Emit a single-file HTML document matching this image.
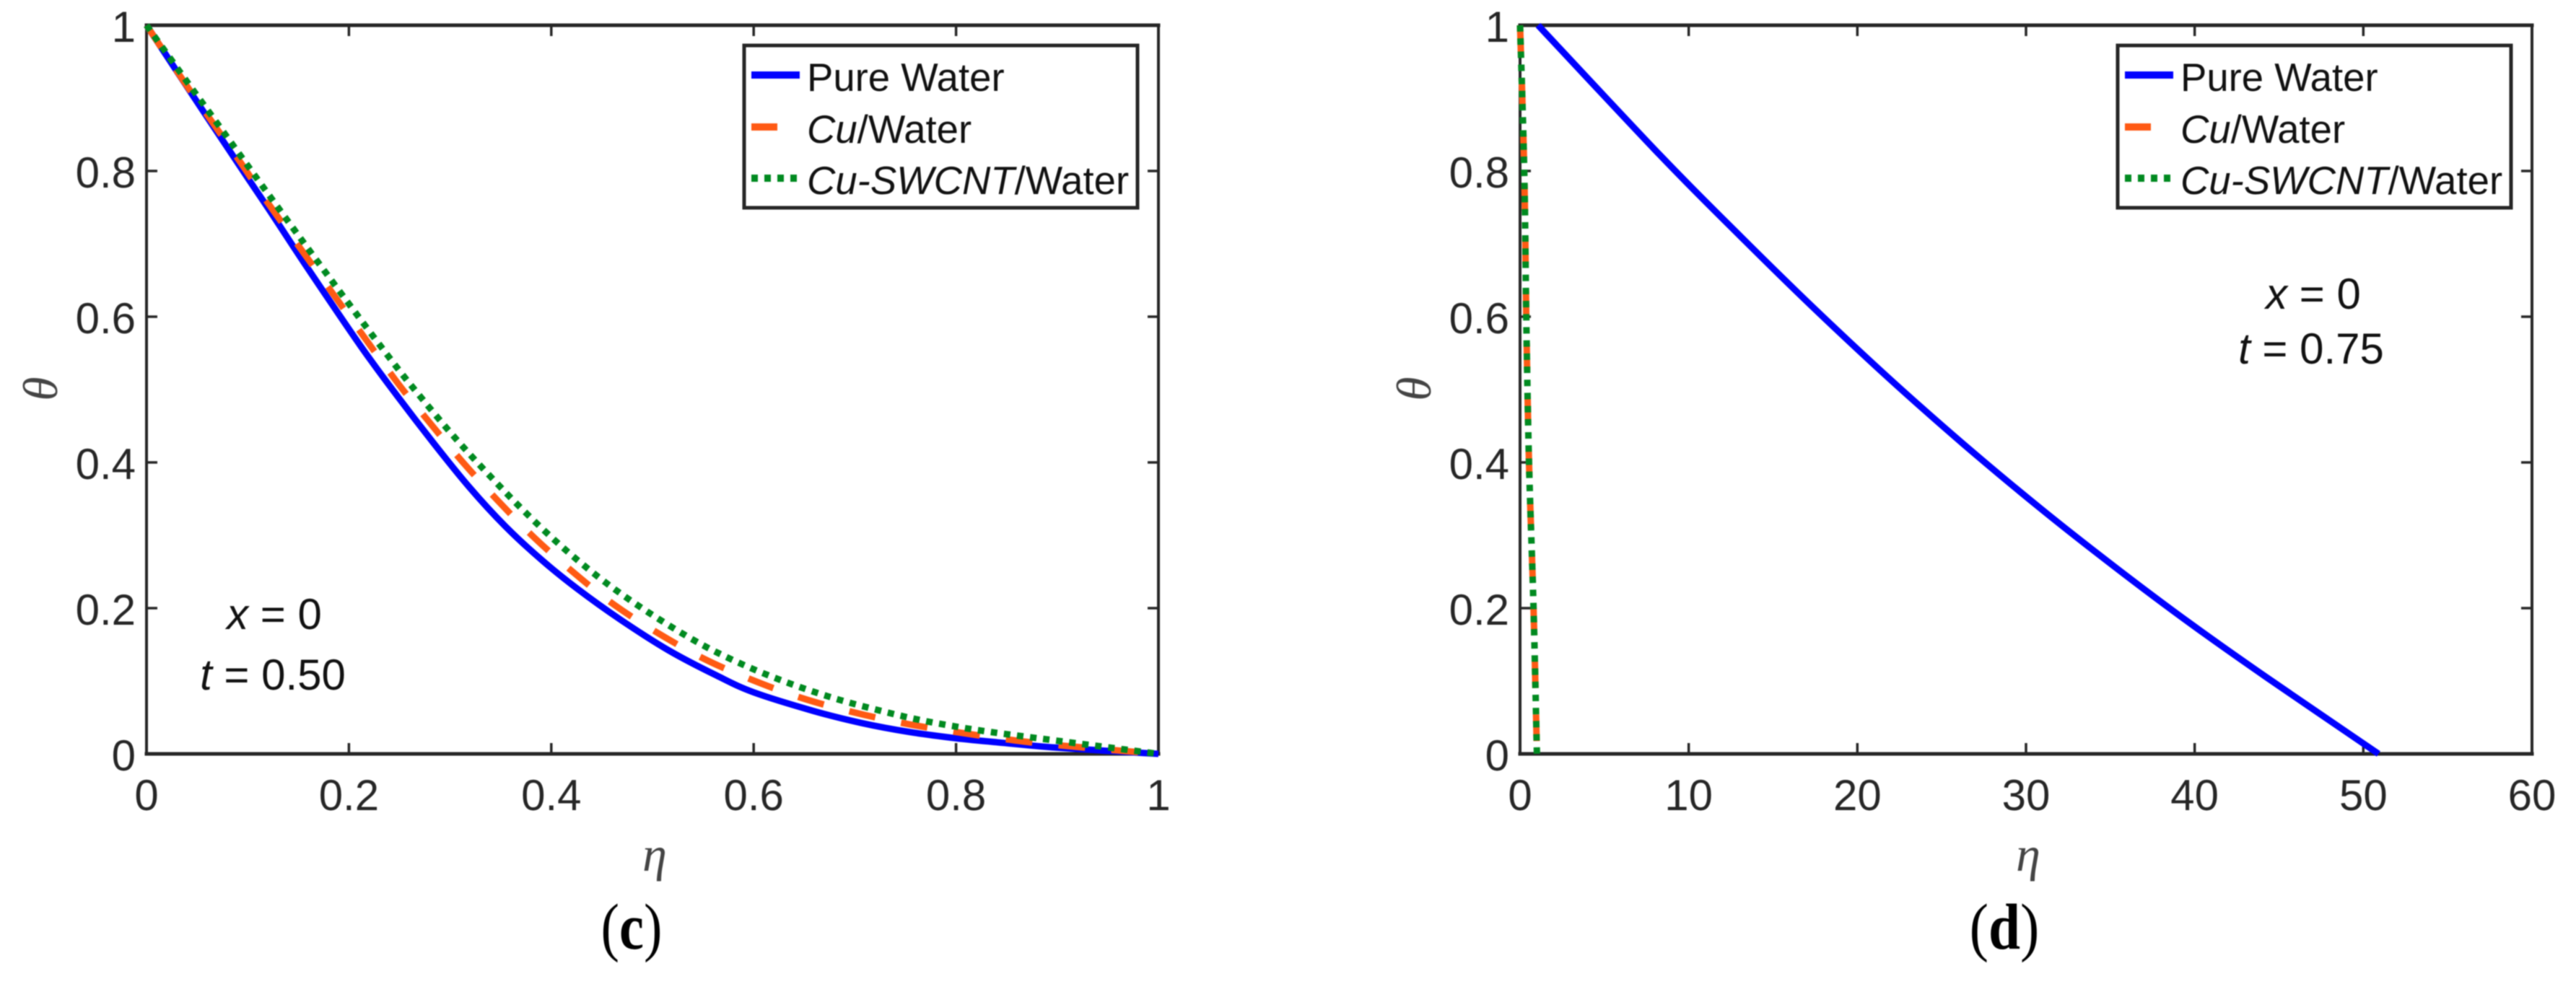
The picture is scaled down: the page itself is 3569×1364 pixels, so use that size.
<!DOCTYPE html>
<html lang="en">
<head>
<meta charset="utf-8">
<title>Temperature profiles (c) and (d)</title>
<style>
html,body{margin:0;padding:0;background:#fff;}
body{width:3569px;height:1364px;overflow:hidden;}
svg{display:block;filter:blur(0.7px);}
text{font-family:"Liberation Sans",Arial,sans-serif;}
.tick{font-size:60px;fill:#262626;}
.leg{font-size:54.5px;fill:#111;}
.note{font-size:60px;fill:#111;}
.sym{font-family:"Liberation Serif","DejaVu Serif",serif;font-style:italic;font-size:68px;fill:#444;}
.cap{font-family:"Liberation Serif","DejaVu Serif",serif;font-size:90px;fill:#000;}
</style>
</head>
<body>
<svg id="figure" xmlns="http://www.w3.org/2000/svg" width="3569" height="1364" viewBox="0 0 3569 1364">
  <rect x="0" y="0" width="3569" height="1364" fill="#fff"/>
  <g id="panel-c"></g>
  <g id="panel-d"></g>

  <text class="cap" text-anchor="middle" transform="translate(875 1315) scale(0.85 1)">(<tspan font-weight="bold">c</tspan>)</text>
  <text class="cap" text-anchor="middle" transform="translate(2777 1315) scale(0.88 1)">(<tspan font-weight="bold">d</tspan>)</text>

  <text class="note" x="380" y="872" text-anchor="middle"><tspan font-style="italic">x</tspan> = 0</text>
  <text class="note" x="378" y="956" text-anchor="middle"><tspan font-style="italic">t</tspan> = 0.50</text>
  <text class="note" x="3205" y="428" text-anchor="middle"><tspan font-style="italic">x</tspan> = 0</text>
  <text class="note" x="3202" y="504" text-anchor="middle"><tspan font-style="italic">t</tspan> = 0.75</text>
</svg>
<script>
// ---- Panel (c) data ----
const cXTickLabels = ['0', '0.2', '0.4', '0.6', '0.8', '1'];
const cXTicks = [0, 0.2, 0.4, 0.6, 0.8, 1];
const cEtaPure = [0, 0.0525, 0.1001, 0.1213, 0.16, 0.2118, 0.2475, 0.2832, 0.3188, 0.3545, 0.3902, 0.4258, 0.4686, 0.5162, 0.5637, 0.6, 0.6588, 0.7062, 0.754, 0.7996, 0.8395, 0.9, 1];
const cThetaPure = [1, 0.8894, 0.7904, 0.7465, 0.665, 0.5594, 0.4918, 0.4274, 0.3663, 0.3125, 0.2665, 0.2265, 0.184, 0.1419, 0.1073, 0.0845, 0.059, 0.0425, 0.03, 0.0215, 0.016, 0.0085, 0];
const cEtaCu = [0, 0.0371, 0.0661, 0.0953, 0.1227, 0.184, 0.2456, 0.2784, 0.3117, 0.3467, 0.3828, 0.4218, 0.4622, 0.5055, 0.5511, 0.5982, 0.6469, 0.6969, 0.7473, 0.7979, 0.85, 0.9, 1];
const cThetaCu = [1, 0.9224, 0.8647, 0.8069, 0.7508, 0.632, 0.5139, 0.4571, 0.4017, 0.3482, 0.2973, 0.2492, 0.2046, 0.1657, 0.1304, 0.1017, 0.0769, 0.0577, 0.0423, 0.0304, 0.02, 0.012, 0];
const cEtaHybrid = [0, 0.0323, 0.0625, 0.093, 0.1234, 0.18, 0.2392, 0.2713, 0.3048, 0.3397, 0.3759, 0.4139, 0.4538, 0.4964, 0.5407, 0.5754, 0.6108, 0.6474, 0.6845, 0.7218, 0.7598, 0.7979, 0.8359, 0.9, 0.95, 1];
const cThetaHybrid = [1, 0.9373, 0.8795, 0.8208, 0.7624, 0.655, 0.5452, 0.4891, 0.434, 0.3809, 0.3294, 0.2802, 0.235, 0.1938, 0.1561, 0.1314, 0.1099, 0.0908, 0.0743, 0.0604, 0.0478, 0.0379, 0.0297, 0.018, 0.009, 0];

// ---- Panel (d) data ----
const dXTickLabels = ['0', '10', '20', '30', '40', '50', '60'];
const dXTicks = [0, 10, 20, 30, 40, 50, 60];
const dEtaPure = [1.07, 8.29, 12.8, 17.3, 21.8, 26.3, 30.8, 35.3, 39.8, 44.3, 50.9];
const dThetaPure = [1, 0.822, 0.7165, 0.6145, 0.517, 0.425, 0.338, 0.256, 0.178, 0.1045, 0];
const dEtaCu = [0, 0.25, 0.37, 0.53, 0.8, 1];
const dThetaCu = [1, 0.8, 0.6, 0.4, 0.2, 0];
const dEtaHybrid = [0, 0.25, 0.37, 0.53, 0.8, 1];
const dThetaHybrid = [1, 0.8, 0.6, 0.4, 0.2, 0];

// ---- Shared y axis data ----
const yTicks = [0, 0.2, 0.4, 0.6, 0.8, 1];
const yTickLabels = ['0', '0.2', '0.4', '0.6', '0.8', '1'];

const SVGNS = 'http://www.w3.org/2000/svg';
const BLUE = '#0000ff', ORANGE = '#ff5a14', GREEN = '#008a20', INK = '#262626';

function make(tag, props, parent) {
  const node = document.createElementNS(SVGNS, tag);
  for (const key in props) node.setAttribute(key, props[key]);
  parent.appendChild(node);
  return node;
}

// Smooth path through the scaled points (Catmull-Rom to Bezier)
function smoothPath(pts) {
  let d = 'M' + pts[0][0].toFixed(1) + ' ' + pts[0][1].toFixed(1);
  for (let i = 0; i < pts.length - 1; i++) {
    const p0 = pts[Math.max(i - 1, 0)], p1 = pts[i], p2 = pts[i + 1], p3 = pts[Math.min(i + 2, pts.length - 1)];
    const c1x = p1[0] + (p2[0] - p0[0]) / 6, c1y = p1[1] + (p2[1] - p0[1]) / 6;
    const c2x = p2[0] - (p3[0] - p1[0]) / 6, c2y = p2[1] - (p3[1] - p1[1]) / 6;
    d += ' C' + c1x.toFixed(1) + ' ' + c1y.toFixed(1) + ' ' + c2x.toFixed(1) + ' ' + c2y.toFixed(1) + ' ' + p2[0].toFixed(1) + ' ' + p2[1].toFixed(1);
  }
  return d;
}

function drawPanel(cfg) {
  const g = document.getElementById(cfg.id);
  const L = cfg.left, T = 35, W = 1402, H = 1010;
  const R = L + W, B = T + H;
  const xScale = v => L + (v - cfg.xMin) / (cfg.xMax - cfg.xMin) * W;
  const yScale = v => B - v * H;

  // series
  function series(xs, ys, color, dash, name) {
    const pts = xs.map((v, i) => [xScale(v), yScale(ys[i])]);
    const path = make('path', {d: smoothPath(pts), fill: 'none', stroke: color, 'stroke-width': 9, 'stroke-dasharray': dash, 'stroke-linejoin': 'round'}, g);
    
    
  }

  // axes box
  const box = [[L, T, R, T, 5, 'axis-top'], [L, B, R, B, 5, 'axis-bottom'], [L, T, L, B, 4, 'axis-left'], [R, T, R, B, 4, 'axis-right']];
  box.forEach(function (b) {
    const line = make('line', {x1: b[0], y1: b[1], x2: b[2], y2: b[3], stroke: INK, 'stroke-width': b[4], 'stroke-linecap': 'square'}, g);
    
    
  });

  // x ticks and labels
  cfg.xTicks.forEach(function (v, i) {
    const x = xScale(v);
    if (i > 0 && i < cfg.xTicks.length - 1) {
      const bottomTick = make('line', {x1: x, y1: B, x2: x, y2: B - 15, stroke: INK, 'stroke-width': 3.5}, g);
      
      
      const topTick = make('line', {x1: x, y1: T, x2: x, y2: T + 15, stroke: INK, 'stroke-width': 3.5}, g);
      
      
    }
    const label = make('text', {class: 'tick', x: x, y: B + 78, 'text-anchor': 'middle'}, g);
    label.textContent = cfg.xLabels[i];
    
    
  });

  // y ticks and labels
  yTicks.forEach(function (v, i) {
    const y = yScale(v);
    if (i > 0 && i < yTicks.length - 1) {
      const leftTick = make('line', {x1: L, y1: y, x2: L + 15, y2: y, stroke: INK, 'stroke-width': 3.5}, g);
      
      
      const rightTick = make('line', {x1: R, y1: y, x2: R - 15, y2: y, stroke: INK, 'stroke-width': 3.5}, g);
      
      
    }
    const label = make('text', {class: 'tick', x: L - 15, y: y + 23, 'text-anchor': 'end'}, g);
    label.textContent = yTickLabels[i];
    
    
  });

  series(cfg.pure[0], cfg.pure[1], BLUE, 'none', 'series-pure-water');
  series(cfg.cu[0], cfg.cu[1], ORANGE, '37 36.5', 'series-cu-water');
  series(cfg.hybrid[0], cfg.hybrid[1], GREEN, '9 9.2', 'series-cu-swcnt-water');

  // axis titles
  const xTitle = make('text', {class: 'sym', x: L + 704, y: 1207, 'text-anchor': 'middle'}, g);
  xTitle.textContent = 'η';
  
  
  const yTitleX = L - 124, yTitleY = 539;
  const yTitle = make('text', {class: 'sym', x: yTitleX, y: yTitleY, 'text-anchor': 'middle', transform: 'rotate(-90 ' + yTitleX + ' ' + yTitleY + ')'}, g);
  yTitle.textContent = 'θ';
  
  

  // legend
  const lx = L + 828, ly = 63;
  const legend = make('g', {}, g);
  
  
  const frame = make('rect', {x: lx, y: ly, width: 545, height: 225, fill: '#fff', stroke: INK, 'stroke-width': 5}, legend);
  
  

  function entry(y, color, dash, len, name, build) {
    const sw = make('line', {x1: lx + 10, y1: y, x2: lx + 10 + len, y2: y, stroke: color, 'stroke-width': 10, 'stroke-dasharray': dash}, legend);
    
    
    const t = make('text', {class: 'leg', x: lx + 87, y: y + 22}, legend);
    build(t);
    
    
  }
  function italicThen(t, ital, rest) {
    const s = make('tspan', {'font-style': 'italic'}, t);
    s.textContent = ital;
    t.appendChild(document.createTextNode(rest));
  }
  entry(104, BLUE, 'none', 67, 'legend-pure-water', function (t) { t.textContent = 'Pure Water'; });
  entry(176, ORANGE, 'none', 36, 'legend-cu-water', function (t) { italicThen(t, 'Cu', '/Water'); });
  entry(247, GREEN, '9 9', 64, 'legend-cu-swcnt-water', function (t) { italicThen(t, 'Cu-SWCNT', '/Water'); });
}

drawPanel({
  id: 'panel-c', left: 203, xMin: 0, xMax: 1,
  xTicks: cXTicks, xLabels: cXTickLabels,
  pure: [cEtaPure, cThetaPure], cu: [cEtaCu, cThetaCu], hybrid: [cEtaHybrid, cThetaHybrid]
});
drawPanel({
  id: 'panel-d', left: 2106, xMin: 0, xMax: 60,
  xTicks: dXTicks, xLabels: dXTickLabels,
  pure: [dEtaPure, dThetaPure], cu: [dEtaCu, dThetaCu], hybrid: [dEtaHybrid, dThetaHybrid]
});
</script>
</body>
</html>
